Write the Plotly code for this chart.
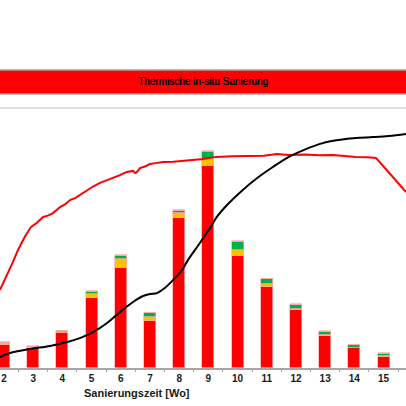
import plotly.graph_objects as go

# --- data (y in relative units 0-100) ---
weeks = [2, 3, 4, 5, 6, 7, 8, 9, 10, 11, 12, 13, 14, 15]
red_part = [9.0, 7.7, 13.3, 27.1, 38.3, 18.1, 57.8, 77.8, 43.1, 31.0, 22.2, 12.4, 7.6, 4.1]
yellow_part = [0.6, 0.3, 0.6, 1.3, 3.6, 1.7, 1.7, 2.5, 2.3, 1.3, 0.4, 0.4, 0.2, 0.5]
green_part = [0.1, 0.1, 0.2, 1.0, 1.3, 1.2, 0.9, 2.8, 3.0, 1.8, 1.8, 1.0, 0.9, 0.8]
violet_part = [0.3, 0.3, 0.3, 0.4, 0.3, 0.3, 0.4, 0.4, 0.3, 0.3, 0.4, 0.3, 0.3, 0.4]

temp_x = [1.86, 2.1, 2.3, 2.48, 2.7, 2.92, 3.1, 3.34, 3.5, 3.68, 3.92, 4.1, 4.26, 4.45,
          4.6, 4.75, 4.88, 5.05, 5.29, 5.5, 5.73, 5.95, 6.21, 6.42, 6.49, 6.55, 6.66,
          6.85, 7.0, 7.2, 7.45, 7.8, 8.13, 8.5, 8.82, 9.05, 9.29, 9.8, 10.42, 10.9,
          11.35, 11.76, 12.3, 12.8, 13.27, 13.7, 14.05, 14.45, 14.74, 15.2, 15.77]
temp_y = [30.0, 35.5, 40.6, 45.4, 50.2, 54.2, 55.6, 58.1, 58.6, 59.6, 61.9, 63.0, 64.6, 65.4,
          66.5, 67.6, 68.8, 69.8, 71.2, 72.0, 73.1, 74.1, 75.4, 75.8, 75.0, 75.3, 76.9,
          77.6, 78.5, 78.8, 79.2, 79.3, 79.6, 80.1, 80.4, 80.9, 81.2, 81.4, 81.5, 81.6,
          82.3, 81.9, 82.1, 81.8, 81.9, 81.5, 81.2, 81.1, 80.8, 75.0, 67.7]

cum_x = [1.86, 2.21, 2.89, 3.58, 4.16, 4.6, 5.05, 5.53, 5.97, 6.42, 6.76, 7.0, 7.24,
         7.51, 7.79, 8.1, 8.3, 8.71, 9.12, 9.29, 9.64, 10.18, 10.63, 11.21, 11.76,
         12.34, 12.92, 13.47, 14.05, 14.64, 15.18, 15.77]
cum_y = [4.2, 5.8, 7.3, 8.5, 10.0, 11.5, 13.8, 17.3, 21.5, 25.4, 27.7, 28.5, 28.8,
         30.8, 33.8, 37.7, 41.5, 48.1, 55.0, 58.1, 62.7, 68.5, 72.7, 77.3, 81.2,
         84.2, 86.5, 87.7, 88.5, 88.8, 89.2, 90.0]

tick_bounds = [w + 0.5 for w in range(1, 16)]
band_label = "Thermische in-situ Sanierung"
x_title = "Sanierungszeit [Wo]"

FONT = "Liberation Sans, Arial, sans-serif"
x_range = [1.863, 15.77]

fig = go.Figure()
outline = dict(color="rgba(255,170,170,0.9)", width=0.8)
for vals, col in [(red_part, "#ff0000"), (yellow_part, "#ffc000"),
                  (green_part, "#00b050"), (violet_part, "#d49ad8")]:
    fig.add_trace(go.Bar(x=weeks, y=vals, width=0.41, marker=dict(color=col, line=outline),
                         showlegend=False, hoverinfo="skip"))

fig.add_trace(go.Scatter(x=temp_x, y=temp_y, mode="lines",
                         line=dict(color="#ff0000", width=2), showlegend=False))
fig.add_trace(go.Scatter(x=cum_x, y=cum_y, mode="lines", line_shape="spline",
                         line=dict(color="#000000", width=2), showlegend=False))
# carrier trace for the boundary tick axis
fig.add_trace(go.Scatter(x=[weeks[0]], y=[0], xaxis="x2", mode="markers",
                         marker=dict(opacity=0), showlegend=False, hoverinfo="skip"))

fig.update_layout(
    width=406, height=406,
    margin=dict(l=0, r=0, t=108, b=38),
    paper_bgcolor="white", plot_bgcolor="white",
    barmode="stack", bargap=0,
    font=dict(family=FONT, color="#000000"),
    xaxis=dict(range=x_range, tickmode="array", tickvals=weeks,
               ticktext=[str(w) for w in weeks], ticks="", showgrid=False,
               zeroline=False, showline=True, linecolor="#a6a6a6", linewidth=1.5,
               tickfont=dict(size=10, family=FONT, weight="bold", color="#1a1a1a")),
    xaxis2=dict(range=x_range, overlaying="x", anchor="y", side="bottom",
                tickmode="array", tickvals=tick_bounds, ticks="outside", ticklen=3,
                tickcolor="#a6a6a6", tickwidth=1, showticklabels=False,
                showgrid=False, zeroline=False, showline=False),
    yaxis=dict(range=[0, 100], visible=False, showgrid=False, zeroline=False),
    shapes=[
        dict(type="line", xref="paper", yref="paper", x0=0, x1=1, y0=1, y1=1,
             line=dict(color="#c0c0c0", width=1)),
        dict(type="rect", xref="paper", yref="paper", x0=-0.01, x1=1.01,
             y0=(368 - 94) / 260, y1=(368 - 70) / 260,
             fillcolor="#ff0000", line=dict(color="#a6a6a6", width=1.5)),
    ],
    annotations=[
        dict(text=band_label, xref="paper", yref="paper", x=0.5,
             y=(368 - 82) / 260, showarrow=False, xanchor="center", yanchor="middle",
             font=dict(size=10, family=FONT, color="#000000",
                       shadow="0.35px 0 0 #000000")),
        dict(text=x_title, xref="paper", yref="paper", x=136.5 / 406,
             y=(368 - 393) / 260, showarrow=False, xanchor="center", yanchor="middle",
             font=dict(size=11, family=FONT, weight="bold", color="#1a1a1a")),
    ],
)

fig.write_html("out.html", config={"displayModeBar": False},
               post_script="document.body.style.margin='0px';"
                           "document.body.style.overflow='hidden';")
